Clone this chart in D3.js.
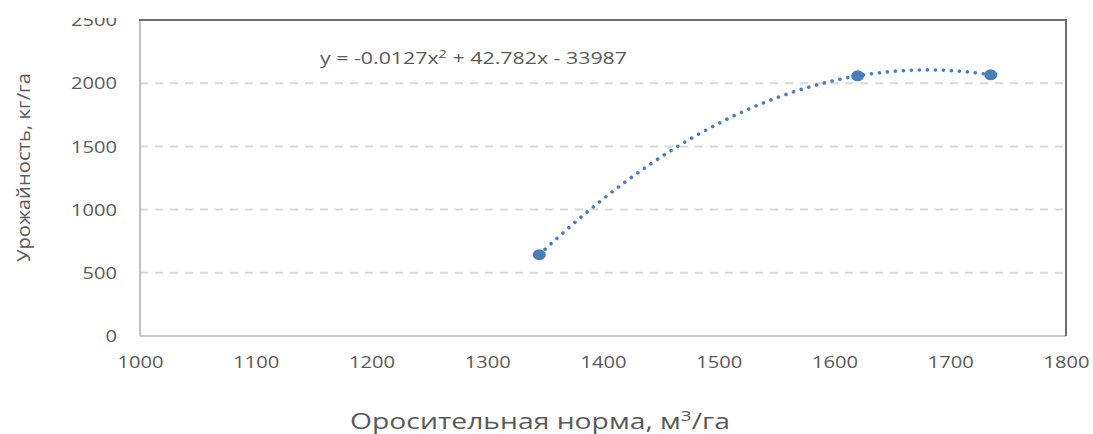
<!DOCTYPE html>
<html>
<head>
<meta charset="utf-8">
<script src="https://cdn.jsdelivr.net/npm/d3@7"></script>
<style>
  html, body { margin: 0; padding: 0; background: #fff; }
  svg { display: block; }
  text { font-family: "Open Sans", "Noto Sans", sans-serif; fill: #595959; }
</style>
</head>
<body>
<svg id="chart" width="1093" height="434"></svg>
<script>
// Irrigation norm (m³/ha) vs yield (kg/ha)
const irrigation = [1345, 1620, 1735];
const yieldKg = [643, 2058, 2066];
const xTicks = [1000, 1100, 1200, 1300, 1400, 1500, 1600, 1700, 1800];
const yTicks = [0, 500, 1000, 1500, 2000, 2500];
const equationMain = "y = -0.0127x";
const equationSup = "2";
const equationTail = " + 42.782x - 33987";
const xTitle = "Оросительная норма, м";
const xTitleSup = "3";
const xTitleTail = "/га";
const yTitle = "Урожайность, кг/га";

const W = 1093, H = 434;
const plot = { left: 140, right: 1066, top: 20, bottom: 336 };
const STRETCH = 1.22;

const svg = d3.select("#chart");
const x = d3.scaleLinear().domain([1000, 1800]).range([plot.left, plot.right]);
const y = d3.scaleLinear().domain([0, 2500]).range([plot.bottom, plot.top]);

// widen glyphs horizontally
function stretch(sel, k) {
  sel.each(function () {
    const len = this.getComputedTextLength();
    d3.select(this).attr("textLength", len * k).attr("lengthAdjust", "spacingAndGlyphs");
  });
}

// dashed horizontal gridlines
svg.append("g")
  .selectAll("line")
  .data(yTicks.filter(d => d > 0 && d < 2500))
  .join("line")
  .attr("x1", plot.left).attr("x2", plot.right)
  .attr("y1", d => y(d)).attr("y2", d => y(d))
  .attr("stroke", "#d9d9d9").attr("stroke-width", 2)
  .attr("stroke-dasharray", "8 7");

// plot frame: light left/bottom, darker top/right
svg.append("line").attr("x1", plot.left).attr("x2", plot.left)
  .attr("y1", plot.top).attr("y2", plot.bottom)
  .attr("stroke", "#bfbfbf").attr("stroke-width", 2);
svg.append("line").attr("x1", plot.left).attr("x2", plot.right)
  .attr("y1", plot.bottom).attr("y2", plot.bottom)
  .attr("stroke", "#c8c8c8").attr("stroke-width", 2);
svg.append("line").attr("x1", plot.left - 1).attr("x2", plot.right + 1)
  .attr("y1", plot.top).attr("y2", plot.top)
  .attr("stroke", "#6e6e6e").attr("stroke-width", 2);
svg.append("line").attr("x1", plot.right).attr("x2", plot.right)
  .attr("y1", plot.top).attr("y2", plot.bottom)
  .attr("stroke", "#6e6e6e").attr("stroke-width", 2);

// y tick labels (top label clipped at the edge)
svg.append("defs").append("clipPath").attr("id", "yclip")
  .append("rect").attr("x", -plot.left).attr("y", 18).attr("width", plot.left).attr("height", H);
const yAxis = d3.axisLeft(y).tickValues(yTicks).tickSize(0).tickPadding(23).tickFormat(d3.format("d"));
const gy = svg.append("g").attr("transform", `translate(${plot.left},0)`)
  .attr("clip-path", "url(#yclip)")
  .call(yAxis);
gy.select(".domain").remove();
gy.selectAll("text").attr("font-size", 16.5).attr("fill", "#595959")
  .attr("font-family", "Open Sans").attr("dy", "0.35em");
stretch(gy.selectAll("text"), STRETCH);

// x tick labels
const xAxis = d3.axisBottom(x).tickValues(xTicks).tickSize(0).tickPadding(20).tickFormat(d3.format("d"));
const gx = svg.append("g").attr("transform", `translate(0,${plot.bottom})`).call(xAxis);
gx.select(".domain").remove();
gx.selectAll("text").attr("font-size", 16.5).attr("fill", "#595959")
  .attr("font-family", "Open Sans");
stretch(gx.selectAll("text"), STRETCH);

// quadratic trendline through the observations (least squares)
function quadFit(xs, ys) {
  const n = xs.length;
  let s = Array(5).fill(0), t = Array(3).fill(0);
  for (let i = 0; i < n; i++) {
    for (let p = 0; p < 5; p++) s[p] += Math.pow(xs[i], p);
    for (let p = 0; p < 3; p++) t[p] += ys[i] * Math.pow(xs[i], p);
  }
  const A = [[s[0], s[1], s[2], t[0]], [s[1], s[2], s[3], t[1]], [s[2], s[3], s[4], t[2]]];
  for (let c = 0; c < 3; c++) {
    let piv = c;
    for (let r = c + 1; r < 3; r++) if (Math.abs(A[r][c]) > Math.abs(A[piv][c])) piv = r;
    [A[c], A[piv]] = [A[piv], A[c]];
    for (let r = 0; r < 3; r++) {
      if (r === c) continue;
      const f = A[r][c] / A[c][c];
      for (let k = c; k < 4; k++) A[r][k] -= f * A[c][k];
    }
  }
  return [A[0][3] / A[0][0], A[1][3] / A[1][1], A[2][3] / A[2][2]];
}
const coef = quadFit(irrigation, yieldKg);
const xMin = d3.min(irrigation), xMax = d3.max(irrigation);
const curve = d3.range(0, 201).map(i => {
  const xv = xMin + (xMax - xMin) * i / 200;
  return [xv, coef[0] + coef[1] * xv + coef[2] * xv * xv];
});
svg.append("path")
  .datum(curve)
  .attr("d", d3.line().x(d => x(d[0])).y(d => y(d[1])))
  .attr("fill", "none")
  .attr("stroke", "#4a7ebb")
  .attr("stroke-width", 3.6)
  .attr("stroke-linecap", "round")
  .attr("stroke-dasharray", "0.01 8");

// observation markers
svg.append("g").selectAll("ellipse")
  .data(irrigation.map((d, i) => [d, yieldKg[i]]))
  .join("ellipse")
  .attr("cx", d => x(d[0])).attr("cy", d => y(d[1]))
  .attr("rx", 6.5).attr("ry", 5.5)
  .attr("fill", "#4a7ebb");

// trendline equation
const eq = svg.append("text")
  .attr("x", 320).attr("y", 64)
  .attr("font-size", 16).attr("fill", "#595959");
eq.append("tspan").text(equationMain);
eq.append("tspan").attr("font-size", 11).attr("dy", -6).text(equationSup);
eq.append("tspan").attr("dy", 6).text(equationTail);
eq.attr("textLength", 307).attr("lengthAdjust", "spacingAndGlyphs");

// axis titles
const xt = svg.append("text")
  .attr("x", 350).attr("y", 429)
  .attr("font-size", 21).attr("fill", "#595959");
xt.append("tspan").text(xTitle);
xt.append("tspan").attr("font-size", 14).attr("dy", -8).text(xTitleSup);
xt.append("tspan").attr("dy", 8).text(xTitleTail);
xt.attr("textLength", 380).attr("lengthAdjust", "spacingAndGlyphs");

const yt = svg.append("text")
  .attr("transform", "translate(30,262) rotate(-90)")
  .attr("font-size", 18).attr("fill", "#595959")
  .text(yTitle);
yt.attr("textLength", 189).attr("lengthAdjust", "spacingAndGlyphs");
</script>
</body>
</html>
